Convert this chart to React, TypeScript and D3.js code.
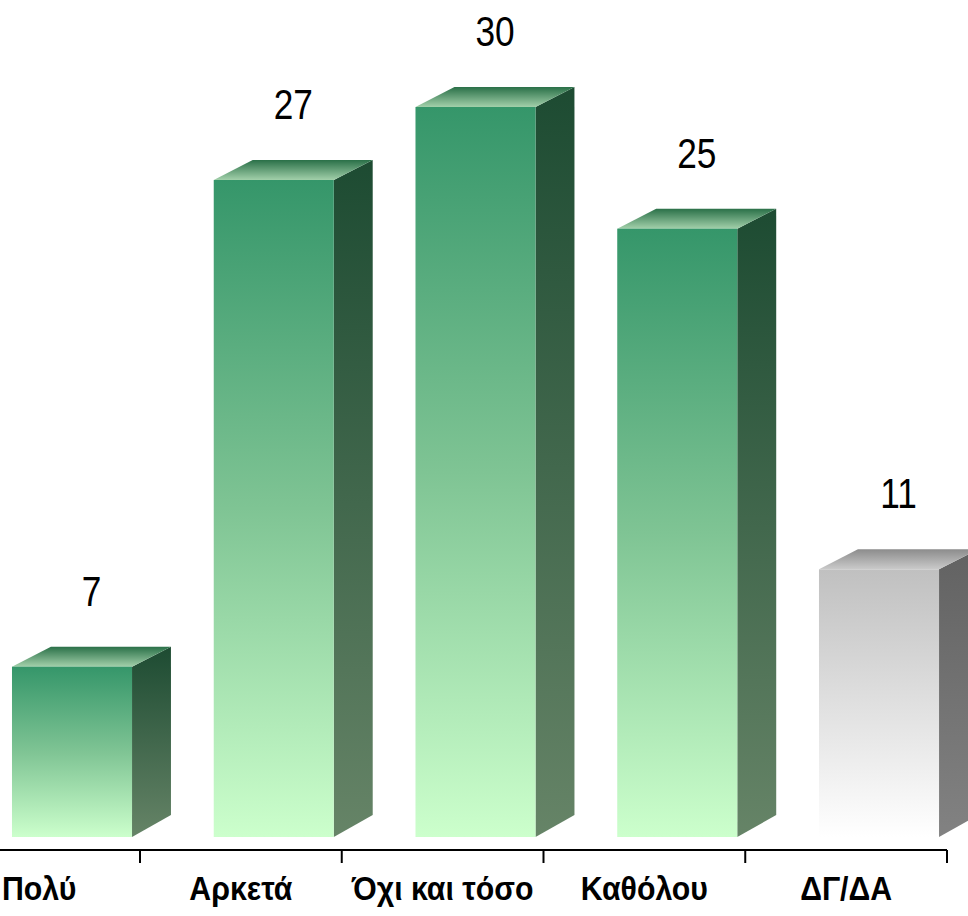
import React from "react";
import * as d3 from "d3";

const categories: string[] = ["Πολύ", "Αρκετά", "Όχι και τόσο", "Καθόλου", "ΔΓ/ΔΑ"];
const values: number[] = [7, 27, 30, 25, 11];
const kinds: string[] = ["green", "green", "green", "green", "grey"];

const W = 968;
const H = 916;

export default function App() {
  const x = d3.scaleBand<string>().domain(categories).range([-61.75, 947]).padding(0);
  const y = d3.scaleLinear().domain([0, 30]).range([837, 107]);
  const bw = x.bandwidth();
  const frontOff = bw * 0.3655;
  const frontW = bw * 0.595;
  const dx = bw * 0.193;
  const dyTop = 20;
  const dyBot = 22;
  const axisY = 850;
  const font = "'Liberation Sans Narrow', 'Arial Narrow', 'Liberation Sans', Arial, sans-serif";

  const ticks = categories.map((c) => (x(c) as number) + bw);

  return (
    <svg width={W} height={H} style={{ position: "absolute", left: 0, top: 0, background: "#fff" }}>
      <defs>
        <linearGradient id="gFront" x1="0" y1="0" x2="0" y2="1">
          <stop offset="0" stopColor="#35966a" />
          <stop offset="0.5" stopColor="#7fc494" />
          <stop offset="1" stopColor="#ccffcc" />
        </linearGradient>
        <linearGradient id="gSide" x1="0" y1="0" x2="0" y2="1">
          <stop offset="0" stopColor="#1d4b32" />
          <stop offset="1" stopColor="#668467" />
        </linearGradient>
        <linearGradient id="gTop" x1="0" y1="0" x2="0" y2="1">
          <stop offset="0" stopColor="#2a7048" />
          <stop offset="1" stopColor="#a2d0aa" />
        </linearGradient>
        <linearGradient id="yFront" x1="0" y1="0" x2="0" y2="1">
          <stop offset="0" stopColor="#c0c0c0" />
          <stop offset="1" stopColor="#ffffff" />
        </linearGradient>
        <linearGradient id="ySide" x1="0" y1="0" x2="0" y2="1">
          <stop offset="0" stopColor="#626262" />
          <stop offset="1" stopColor="#828282" />
        </linearGradient>
        <linearGradient id="yTop" x1="0" y1="0" x2="0" y2="1">
          <stop offset="0" stopColor="#8c8c8c" />
          <stop offset="1" stopColor="#cacaca" />
        </linearGradient>
      </defs>

      {categories.map((c, i) => {
        const v = values[i];
        const x0 = (x(c) as number) + frontOff;
        const x1 = x0 + frontW;
        const yt = y(v);
        const yb = y(0);
        const pre = kinds[i] === "grey" ? "y" : "g";
        const side = `M${x1},${yt} L${x1 + dx},${yt - dyTop} L${x1 + dx},${yb - dyBot} L${x1},${yb} Z`;
        const top = `M${x0},${yt} L${x0 + dx},${yt - dyTop} L${x1 + dx},${yt - dyTop} L${x1},${yt} Z`;
        return (
          <g key={c}>
            <path d={side} fill={`url(#${pre}Side)`} />
            <path d={top} fill={`url(#${pre}Top)`} />
            <rect x={x0} y={yt} width={frontW} height={yb - yt} fill={`url(#${pre}Front)`} />
            <text
              transform={`translate(${x0 + frontW / 2 + dx / 2},${yt - dyTop - 41}) scale(0.82,1)`}
              textAnchor="middle"
              fontFamily={font}
              fontSize={43}
              fill="#000"
            >
              {v}
            </text>
          </g>
        );
      })}

      <line x1={0} x2={947} y1={axisY} y2={axisY} stroke="#000" strokeWidth={2} />
      {ticks.map((t, i) => (
        <line key={i} x1={t} x2={t} y1={axisY} y2={axisY + 13} stroke="#000" strokeWidth={2} />
      ))}
      {categories.map((c) => (
        <text
          key={c}
          transform={`translate(${(x(c) as number) + bw / 2},900) scale(0.89,1)`}
          textAnchor="middle"
          fontFamily={font}
          fontWeight="bold"
          fontSize={34}
          fill="#000"
        >
          {c}
        </text>
      ))}
    </svg>
  );
}
